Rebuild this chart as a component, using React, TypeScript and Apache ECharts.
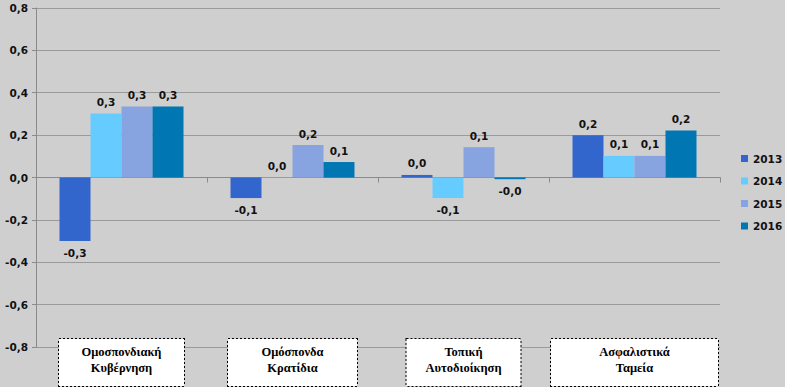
import React, { useEffect, useRef } from "react";
import * as echarts from "echarts";

const categories = [
  "Ομοσπονδιακή\nΚυβέρνηση",
  "Ομόσπονδα\nΚρατίδια",
  "Τοπική\nΑυτοδιοίκηση",
  "Ασφαλιστικά\nΤαμεία",
];
const years = ["2013", "2014", "2015", "2016"];
const values2013 = [-0.3, -0.097, 0.012, 0.2];
const values2014 = [0.302, 0.002, -0.097, 0.102];
const values2015 = [0.335, 0.153, 0.143, 0.102];
const values2016 = [0.335, 0.073, -0.008, 0.222];
const seriesValues = [values2013, values2014, values2015, values2016];
const colors = ["#3366CC", "#66CCFF", "#87A3E0", "#0077B3"];
const boxWidths = [125, 129, 114, 167];

const fmt = (v: number) => v.toFixed(1).replace(".", ",");

export default function App() {
  const ref = useRef<HTMLDivElement>(null);
  useEffect(() => {
    if (!ref.current) return;
    const chart = echarts.init(ref.current, undefined, { renderer: "svg" });
    const rich: Record<string, any> = {};
    boxWidths.forEach((w, i) => {
      rich["c" + i] = {
        width: w,
        align: "center",
        fontFamily: "Liberation Serif",
        fontWeight: "bold",
        fontSize: 12.5,
        lineHeight: 16,
        color: "#000",
      };
    });
    const labelFont = {
      fontFamily: "DejaVu Sans",
      fontWeight: "bold" as const,
      fontSize: 10.5,
      color: "#111",
    };
    chart.setOption({
      animation: false,
      backgroundColor: "#cfcfcf",
      grid: { left: 36, right: 65, top: 8, bottom: 35, containLabel: false },
      legend: {
        orient: "vertical",
        left: 741,
        top: 153,
        padding: 0,
        itemWidth: 7,
        itemHeight: 7,
        itemGap: 11.5,
        icon: "rect",
        data: years,
        textStyle: { ...labelFont },
      },
      xAxis: [
        {
          type: "category",
          data: categories,
          position: "bottom",
          axisLine: { onZero: true, lineStyle: { color: "#8a8a8a", width: 1 } },
          axisTick: { show: true, length: 5, lineStyle: { color: "#8a8a8a" } },
          axisLabel: { show: false },
          splitLine: { show: false },
        },
        {
          type: "category",
          data: categories,
          position: "bottom",
          axisLine: { show: false, onZero: false },
          axisTick: { show: false },
          axisLabel: {
            show: true,
            interval: 0,
            margin: -8,
            backgroundColor: "#ffffff",
            borderColor: "#000",
            borderWidth: 1,
            borderType: "dotted",
            padding: [5, 0, 10, 0],
            formatter: (val: string, idx: number) =>
              val
                .split("\n")
                .map((line) => `{c${idx}|${line}}`)
                .join("\n"),
            rich,
          },
        },
      ],
      yAxis: {
        type: "value",
        min: -0.8,
        max: 0.8,
        interval: 0.2,
        axisLine: { show: true, lineStyle: { color: "#8a8a8a" } },
        axisTick: { show: true, length: 4, lineStyle: { color: "#8a8a8a" } },
        axisLabel: { ...labelFont, margin: 8, formatter: (v: number) => fmt(v) },
        splitLine: { show: true, lineStyle: { color: "#9a9a9a", width: 1 } },
      },
      series: years.map((y, i) => ({
        name: y,
        type: "bar",
        xAxisIndex: 0,
        barWidth: 31,
        barGap: "0%",
        itemStyle: { color: colors[i] },
        label: {
          show: true,
          ...labelFont,
          distance: 6,
          formatter: (p: any) => fmt(p.value),
        },
        data: seriesValues[i].map((v) => ({
          value: v,
          label: { position: v < 0 ? "bottom" : "top" },
        })),
      })),
    });
    return () => chart.dispose();
  }, []);
  return (
    <div
      ref={ref}
      style={{ position: "fixed", left: 0, top: 0, width: 785, height: 387 }}
    />
  );
}
